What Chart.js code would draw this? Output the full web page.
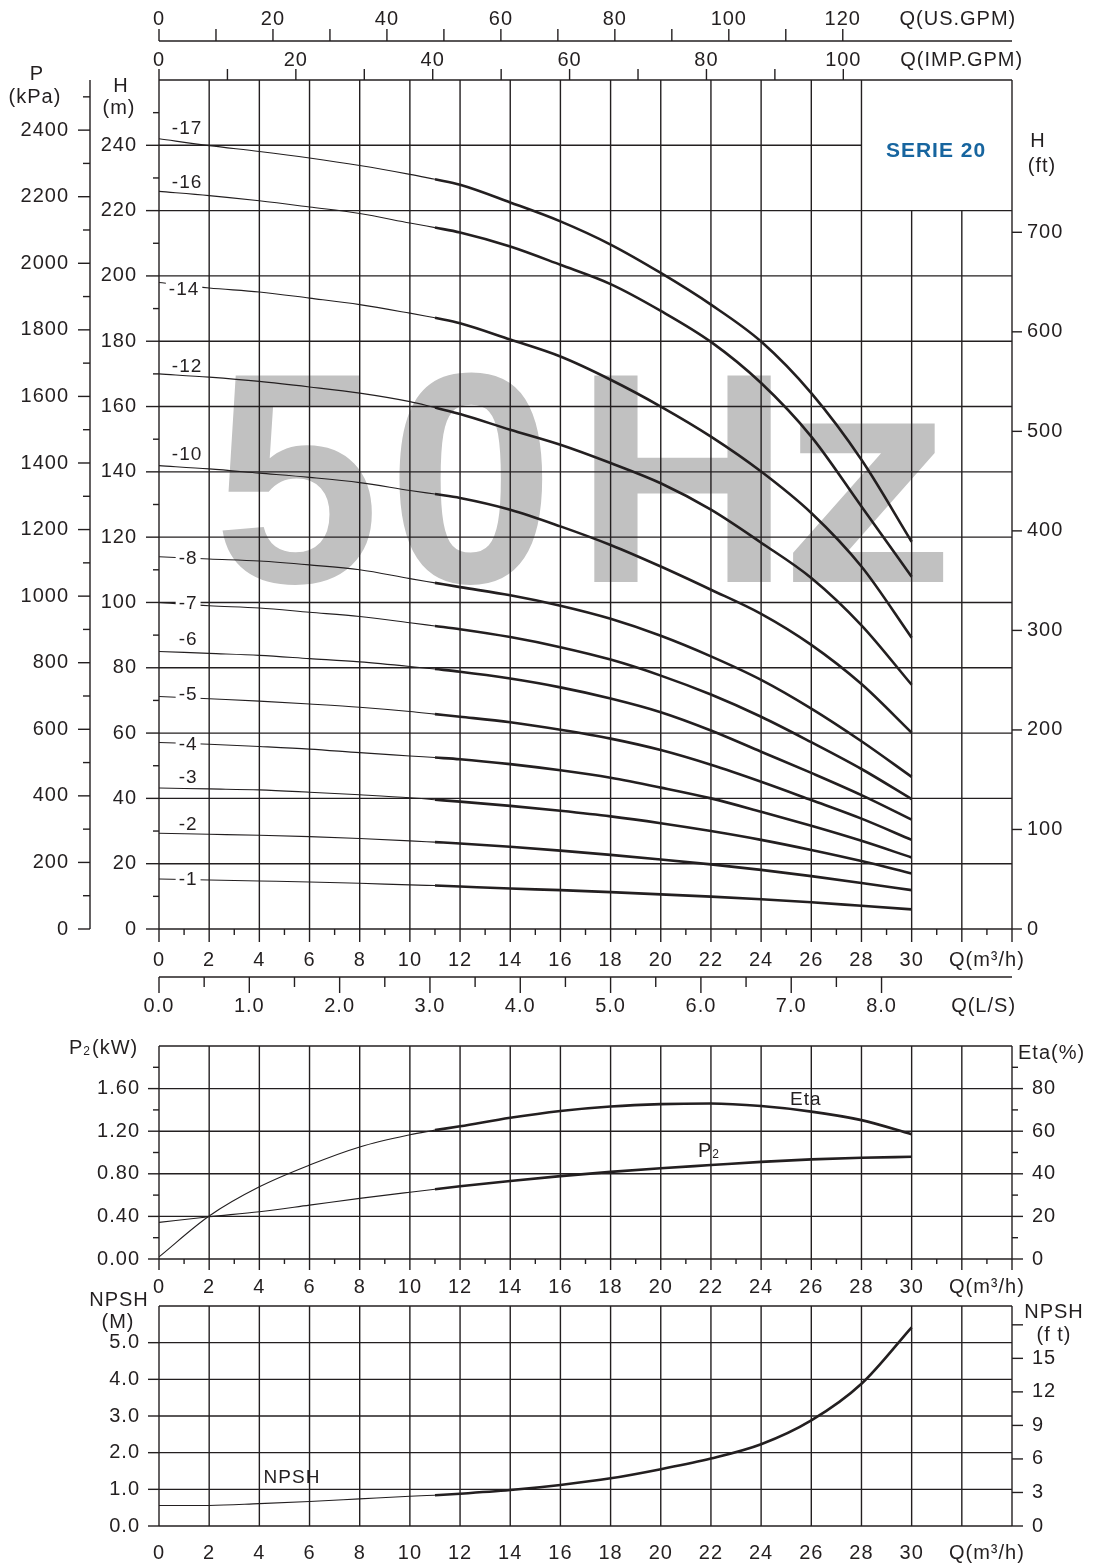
<!DOCTYPE html>
<html>
<head>
<meta charset="utf-8">
<script src="https://cdn.jsdelivr.net/npm/chart.js@4.4.1/dist/chart.umd.min.js"></script>
<style>
  body { margin: 0; background: #fff; width: 1094px; height: 1564px; position: relative; overflow: hidden; }
  canvas { position: absolute; left: 0; }
</style>
</head>
<body>
<canvas id="head" width="1094" height="1030" style="top:0"></canvas>
<canvas id="power" width="1094" height="270" style="top:1030px"></canvas>
<canvas id="npsh" width="1094" height="274" style="top:1290px"></canvas>
<script>
const INK = '#231f20';
const FONT = "'Liberation Sans', Arial, Helvetica, sans-serif";

// flow points, m3/h
const flowQ = [0, 2, 4, 6, 8, 10, 11, 12, 14, 16, 18, 20, 22, 24, 26, 28, 30];

// head (m) for each stage count
const head17 = [242.0, 239.9, 238.1, 236.1, 233.8, 231.1, 229.6, 227.9, 222.5, 216.7, 209.6, 200.9, 191.2, 179.9, 164.1, 143.7, 118.6];
const head16 = [225.9, 224.6, 223.0, 221.1, 219.1, 216.2, 214.8, 213.3, 209.0, 203.4, 197.5, 189.3, 179.8, 167.2, 150.8, 129.4, 107.9];
const head14 = [198.0, 196.3, 195.1, 193.2, 191.2, 188.6, 187.2, 185.5, 180.5, 175.3, 168.2, 160.0, 150.8, 140.1, 127.4, 111.0, 89.2];
const head12 = [170.0, 169.0, 167.7, 166.0, 164.1, 161.5, 159.7, 157.7, 152.9, 148.3, 142.7, 136.5, 128.4, 118.3, 107.5, 93.0, 74.8];
const head10 = [141.9, 140.9, 139.6, 138.3, 136.7, 134.3, 133.2, 132.0, 128.4, 123.3, 117.6, 111.0, 103.9, 96.5, 87.0, 75.0, 60.1];
const head8 = [114.0, 113.3, 112.7, 111.5, 110.0, 107.3, 106.0, 104.7, 102.2, 99.0, 95.0, 89.8, 83.5, 76.3, 67.5, 57.5, 46.6];
const head7 = [100.0, 99.0, 98.3, 97.0, 95.7, 93.8, 92.8, 91.8, 89.4, 86.3, 82.5, 77.6, 71.8, 65.0, 57.2, 49.0, 39.8];
const head6 = [85.0, 84.4, 83.8, 82.8, 81.8, 80.4, 79.6, 78.8, 76.7, 74.0, 70.6, 66.4, 60.8, 54.3, 47.8, 41.0, 33.5];
const head5 = [71.2, 70.5, 69.8, 68.9, 67.9, 66.6, 65.8, 65.0, 63.3, 61.0, 58.3, 54.8, 50.3, 45.1, 39.5, 33.8, 27.3];
const head4 = [57.1, 56.6, 55.9, 55.1, 54.0, 53.0, 52.5, 52.0, 50.5, 48.6, 46.3, 43.3, 40.0, 35.9, 31.6, 27.0, 21.9];
const head3 = [43.2, 42.9, 42.6, 41.9, 41.1, 40.2, 39.6, 39.0, 37.7, 36.2, 34.5, 32.4, 30.0, 27.3, 24.2, 20.8, 17.0];
const head2 = [29.3, 29.0, 28.7, 28.3, 27.7, 27.0, 26.6, 26.2, 25.2, 24.0, 22.7, 21.3, 19.8, 18.1, 16.2, 14.1, 11.9];
const head1 = [15.3, 15.0, 14.7, 14.4, 14.0, 13.5, 13.3, 13.0, 12.4, 11.9, 11.3, 10.6, 9.9, 9.1, 8.2, 7.1, 6.0];

const stageCurves = [head17, head16, head14, head12, head10, head8, head7, head6, head5, head4, head3, head2, head1];

// curve labels: text, Q, H, label cuts the line
const stageLabels = [
  ['-17', 1.12, 245.1, false], ['-16', 1.12, 228.6, false], ['-14', 1.0, 195.8, true],
  ['-12', 1.12, 172.2, false], ['-10', 1.12, 145.2, false], ['-8', 1.16, 113.4, true],
  ['-7', 1.16, 99.6, true], ['-6', 1.16, 88.5, false], ['-5', 1.16, 71.7, true],
  ['-4', 1.16, 56.4, true], ['-3', 1.16, 46.3, false], ['-2', 1.16, 32.0, false],
  ['-1', 1.16, 15.1, true]
];

// efficiency (%), shaft power (kW), NPSH (m)
const etaPct = [1.0, 20.2, 33.9, 44.1, 52.6, 58.3, 60.5, 62.3, 66.3, 69.5, 71.6, 72.7, 73.0, 71.8, 69.2, 65.2, 58.6];
const powerKw = [0.344, 0.397, 0.444, 0.506, 0.569, 0.627, 0.655, 0.683, 0.733, 0.778, 0.818, 0.852, 0.882, 0.912, 0.935, 0.950, 0.960];
const npshM = [0.56, 0.56, 0.61, 0.67, 0.74, 0.81, 0.84, 0.88, 0.98, 1.12, 1.30, 1.55, 1.84, 2.23, 2.88, 3.88, 5.42];

// tick labels
const qTicks = [0, 2, 4, 6, 8, 10, 12, 14, 16, 18, 20, 22, 24, 26, 28, 30];
const lsTicks = [0, 1, 2, 3, 4, 5, 6, 7, 8];
const usTicks = [0, 20, 40, 60, 80, 100, 120];
const impTicks = [0, 20, 40, 60, 80, 100];
const hTicks = [0, 20, 40, 60, 80, 100, 120, 140, 160, 180, 200, 220, 240];
const pTicks = [0, 200, 400, 600, 800, 1000, 1200, 1400, 1600, 1800, 2000, 2200, 2400];
const ftTicks = [0, 100, 200, 300, 400, 500, 600, 700];
const p2Ticks = [0, 0.4, 0.8, 1.2, 1.6];
const etaTicks = [0, 20, 40, 60, 80];
const npshTicks = [0, 1, 2, 3, 4, 5];
const npshFtTicks = [0, 3, 6, 9, 12, 15];

// unit conversions from the primary axes
const Q_MAX = 34, H_MAX = 260;
const KPA_PER_M = 9.81, M_PER_FT = 0.3048;
const USGPM_PER_M3H = 4.4029, IMPGPM_PER_M3H = 3.6662, M3H_PER_LS = 3.6;

function steps(a, b, s) {
  const r = [];
  for (let v = a; v <= b + 1e-9; v += s) r.push(+v.toFixed(4));
  return r;
}

function seg(ctx, x1, y1, x2, y2) {
  ctx.beginPath();
  ctx.moveTo(x1, y1);
  ctx.lineTo(x2, y2);
  ctx.stroke();
}

function marks(ctx, scale, values, len) {
  values.forEach(v => {
    const p = scale.getPixelForValue(v);
    if (scale.position === 'bottom') seg(ctx, p, scale.top, p, scale.top + len);
    else if (scale.position === 'top') seg(ctx, p, scale.bottom, p, scale.bottom - len);
    else if (scale.position === 'left') seg(ctx, scale.right, p, scale.right - len, p);
    else seg(ctx, scale.left, p, scale.left + len, p);
  });
}

function axis(position, min, max, ticks, label, padding, size, weight) {
  return {
    type: 'linear', position, min, max, bounds: 'data', weight: weight || 0,
    grid: { display: false, drawTicks: false },
    border: { display: false },
    afterBuildTicks: s => { s.ticks = ticks.map(value => ({ value })); },
    afterFit: s => {
      if (s.isHorizontal()) s.height = size; else s.width = size;
      s.paddingTop = s.paddingBottom = s.paddingLeft = s.paddingRight = 0;
    },
    ticks: { autoSkip: false, maxRotation: 0, minRotation: 0, padding, callback: label, color: INK, font: { size: 20 } }
  };
}

function curve(values, yAxisID, thick) {
  const pts = flowQ.map((x, i) => ({ x, y: values[i] })).filter(p => thick ? p.x >= 11 : p.x <= 11);
  return {
    data: pts, xAxisID: 'x', yAxisID,
    borderColor: INK, borderWidth: thick ? 2.6 : 1.1,
    pointRadius: 0, fill: false, cubicInterpolationMode: 'monotone'
  };
}

function texts(ctx, items, font, align) {
  ctx.font = font;
  ctx.fillStyle = INK;
  ctx.textAlign = align || 'center';
  ctx.textBaseline = 'middle';
  items.forEach(([t, x, y]) => ctx.fillText(t, x, y));
}

function subText(ctx, x, y, main, sub, rest) {
  ctx.fillStyle = INK;
  ctx.textAlign = 'left';
  ctx.textBaseline = 'middle';
  ctx.font = `20px ${FONT}`;
  ctx.fillText(main, x, y);
  x += ctx.measureText(main).width;
  ctx.font = `12px ${FONT}`;
  ctx.fillText(sub, x, y + 4);
  x += ctx.measureText(sub).width + 1;
  if (rest) {
    ctx.font = `20px ${FONT}`;
    ctx.fillText(rest, x, y);
  }
}

Chart.defaults.font.family = FONT;
Chart.defaults.font.size = 20;
Chart.defaults.color = INK;

const common = {
  responsive: false,
  animation: false,
  events: [],
  plugins: { legend: { display: false }, tooltip: { enabled: false } }
};

// ---------- head chart ----------
const headDecor = {
  id: 'headDecor',
  beforeDraw(chart) { chart.ctx.letterSpacing = '1px'; },
  beforeDatasetsDraw(chart) {
    const { ctx } = chart;
    const s = chart.scales, x = s.x, h = s.h;
    ctx.save();
    ctx.letterSpacing = '0px';
    ctx.fillStyle = '#c1c1c1';
    ctx.font = `bold 300px ${FONT}`;
    ctx.textAlign = 'left';
    ctx.textBaseline = 'alphabetic';
    // watermark letters: char, left ink edge, horizontal stretch
    [['5', 218, 1], ['0', 397, 1], ['H', 593, 1], ['z', 790, 1.18]].forEach(([c, left, sx]) => {
      const m = ctx.measureText(c);
      ctx.save();
      ctx.translate(left, 582);
      ctx.scale(sx, 1);
      ctx.fillText(c, m.actualBoundingBoxLeft, 0);
      ctx.restore();
    });

    ctx.strokeStyle = INK;
    ctx.lineWidth = 1.4;
    steps(0, Q_MAX, 2).forEach(q => {
      const px = x.getPixelForValue(q);
      const top = q > 28 && q < Q_MAX ? h.getPixelForValue(220) : h.top;
      seg(ctx, px, top, px, h.bottom);
    });
    steps(0, H_MAX, 20).forEach(v => {
      const py = h.getPixelForValue(v);
      seg(ctx, x.left, py, v === 240 ? x.getPixelForValue(28) : x.right, py);
    });
    seg(ctx, s.us.left, s.us.bottom, s.us.right, s.us.bottom);
    seg(ctx, s.ls.left, s.ls.top, s.ls.right, s.ls.top);
    seg(ctx, s.p.right, s.p.top, s.p.right, s.p.bottom);

    marks(ctx, x, steps(0, 34, 2), 13);
    marks(ctx, x, steps(1, 33, 2), 6);
    marks(ctx, s.ls, steps(0, 8, 1), 16);
    marks(ctx, s.ls, steps(0.5, 7.5, 1), 10);
    marks(ctx, s.us, steps(0, 120, 10), 12);
    marks(ctx, s.imp, steps(0, 100, 10), 11);
    marks(ctx, h, steps(0, 240, 20), 13);
    marks(ctx, h, steps(10, 250, 20), 6);
    marks(ctx, s.p, steps(0, 2400, 200), 12);
    marks(ctx, s.p, steps(100, 2500, 200), 7);
    marks(ctx, s.ft, steps(0, 700, 100), 10);
    ctx.restore();
  },
  afterDatasetsDraw(chart) {
    const { ctx } = chart;
    const x = chart.scales.x, h = chart.scales.h;
    ctx.save();
    ctx.font = `19px ${FONT}`;
    ctx.textAlign = 'center';
    ctx.textBaseline = 'middle';
    stageLabels.forEach(([t, q, v, cut]) => {
      const px = x.getPixelForValue(q), py = h.getPixelForValue(v);
      if (cut) {
        const w = ctx.measureText(t).width + 6;
        ctx.fillStyle = '#fff';
        ctx.fillRect(px - w / 2, py - 8, w, 16);
      }
      ctx.fillStyle = INK;
      ctx.fillText(t, px, py);
    });
    texts(ctx, [['P', 37, 74], ['(kPa)', 35, 97], ['H', 121, 86], ['(m)', 119, 108],
                ['H', 1038, 141], ['(ft)', 1042, 166]], `20px ${FONT}`);
    ctx.font = `bold 21px ${FONT}`;
    ctx.fillStyle = '#17659f';
    ctx.textAlign = 'center';
    ctx.fillText('SERIE 20', 936, 151);
    ctx.restore();
  }
};

const headSets = [];
stageCurves.forEach(c => {
  headSets.push(curve(c, 'h', false));
  headSets.push(curve(c, 'h', true));
});

new Chart(document.getElementById('head'), {
  type: 'line',
  data: { datasets: headSets },
  options: {
    ...common,
    layout: { padding: 0 },
    scales: {
      x: axis('bottom', 0, Q_MAX, [...qTicks, 33], v => v === 33 ? 'Q(m³/h)' : String(v), 19, 48, 0),
      ls: axis('bottom', 0, Q_MAX / M3H_PER_LS, [...lsTicks, 9.13], v => v === 9.13 ? 'Q(L/S)' : v.toFixed(1), 17, 53, 1),
      imp: axis('top', 0, Q_MAX * IMPGPM_PER_M3H, [...impTicks, 117.3], v => v === 117.3 ? 'Q(IMP.GPM)' : String(v), 8, 39, 0),
      us: axis('top', 0, Q_MAX * USGPM_PER_M3H, [...usTicks, 140.2], v => v === 140.2 ? 'Q(US.GPM)' : String(v), 10, 41, 1),
      h: axis('left', 0, H_MAX, hTicks, v => String(v), 22, 69, 0),
      p: axis('left', 0, H_MAX * KPA_PER_M, pTicks, v => String(v), 21, 90, 1),
      ft: axis('right', 0, H_MAX / M_PER_FT, ftTicks, v => String(v), 15, 82, 0)
    }
  },
  plugins: [headDecor]
});

// ---------- power / efficiency chart ----------
const powerDecor = {
  id: 'powerDecor',
  beforeDraw(chart) { chart.ctx.letterSpacing = '1px'; },
  beforeDatasetsDraw(chart) {
    const { ctx } = chart;
    const s = chart.scales, x = s.x, y = s.p2;
    ctx.save();
    ctx.strokeStyle = INK;
    ctx.lineWidth = 1.4;
    steps(0, Q_MAX, 2).forEach(q => {
      const px = x.getPixelForValue(q);
      seg(ctx, px, y.top, px, y.bottom);
    });
    steps(0, 2.0, 0.4).forEach(v => {
      const py = y.getPixelForValue(v);
      seg(ctx, x.left, py, x.right, py);
    });
    marks(ctx, x, steps(0, 34, 2), 11);
    marks(ctx, x, steps(1, 33, 2), 5);
    marks(ctx, y, steps(0, 1.6, 0.4), 11);
    marks(ctx, y, steps(0.2, 1.8, 0.4), 6);
    marks(ctx, s.eta, steps(0, 80, 20), 11);
    marks(ctx, s.eta, steps(10, 90, 20), 6);
    ctx.restore();
  },
  afterDatasetsDraw(chart) {
    const { ctx } = chart;
    ctx.save();
    subText(ctx, 69, 18, 'P', '2', '(kW)');
    texts(ctx, [['Eta(%)', 1018, 23]], `20px ${FONT}`, 'left');
    texts(ctx, [['Eta', 790, 70]], `19px ${FONT}`, 'left');
    subText(ctx, 698, 121, 'P', '2');
    ctx.restore();
  }
};

new Chart(document.getElementById('power'), {
  type: 'line',
  data: {
    datasets: [
      curve(etaPct, 'eta', false), curve(etaPct, 'eta', true),
      curve(powerKw, 'p2', false), curve(powerKw, 'p2', true)
    ]
  },
  options: {
    ...common,
    layout: { padding: { top: 16 } },
    scales: {
      x: axis('bottom', 0, Q_MAX, [...qTicks, 33], v => v === 33 ? 'Q(m³/h)' : String(v), 16, 41, 0),
      p2: axis('left', 0, 2.0, p2Ticks, v => v.toFixed(2), 19, 159, 0),
      eta: axis('right', 0, 100, etaTicks, v => String(v), 20, 82, 0)
    }
  },
  plugins: [powerDecor]
});

// ---------- NPSH chart ----------
const npshDecor = {
  id: 'npshDecor',
  beforeDraw(chart) { chart.ctx.letterSpacing = '1px'; },
  beforeDatasetsDraw(chart) {
    const { ctx } = chart;
    const s = chart.scales, x = s.x, y = s.n;
    ctx.save();
    ctx.strokeStyle = INK;
    ctx.lineWidth = 1.4;
    steps(0, Q_MAX, 2).forEach(q => {
      const px = x.getPixelForValue(q);
      seg(ctx, px, y.top, px, y.bottom);
    });
    steps(0, 6, 1).forEach(v => {
      const py = y.getPixelForValue(v);
      seg(ctx, x.left, py, x.right, py);
    });
    marks(ctx, y, steps(0, 5, 1), 11);
    marks(ctx, s.nft, steps(0, 18, 3), 11);
    ctx.restore();
  },
  afterDatasetsDraw(chart) {
    const { ctx } = chart;
    ctx.save();
    texts(ctx, [['NPSH', 119, 10], ['(M)', 118, 32], ['NPSH', 1054, 22], ['(f t)', 1054, 45]], `20px ${FONT}`);
    texts(ctx, [['NPSH', 292, 188]], `19px ${FONT}`);
    ctx.restore();
  }
};

new Chart(document.getElementById('npsh'), {
  type: 'line',
  data: { datasets: [curve(npshM, 'n', false), curve(npshM, 'n', true)] },
  options: {
    ...common,
    layout: { padding: { top: 16 } },
    scales: {
      x: axis('bottom', 0, Q_MAX, [...qTicks, 33], v => v === 33 ? 'Q(m³/h)' : String(v), 15, 38, 0),
      n: axis('left', 0, 6, npshTicks, v => v.toFixed(1), 19, 159, 0),
      nft: axis('right', 0, 6 / M_PER_FT, npshFtTicks, v => String(v), 20, 82, 0)
    }
  },
  plugins: [npshDecor]
});
</script>
</body>
</html>
